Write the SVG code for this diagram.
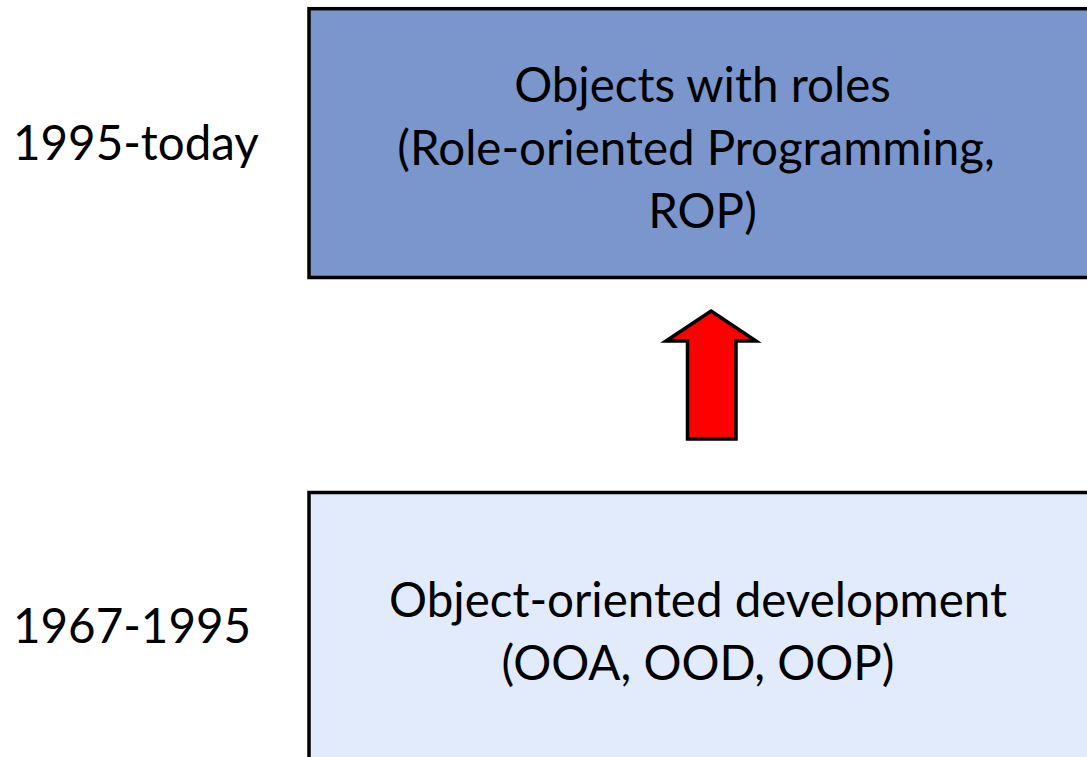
<svg xmlns="http://www.w3.org/2000/svg" width="1087" height="757" viewBox="0 0 1087 757">
<style>
text{font-family:Lato,"Noto Sans",sans-serif;font-size:47.5px;fill:#000}
.c{text-anchor:middle}
.box{stroke:#000;stroke-width:3.5}
</style>
<rect width="1087" height="757" fill="#fff"/>
<g id="label-top"><text x="13" y="160">1995-today</text></g>
<g id="label-bottom"><text x="13" y="643">1967-1995</text></g>
<g id="node-rop">
<rect class="box" x="309" y="8.7" width="800" height="268.8" fill="#7A96CC"/>
<text class="c" x="702.5" y="102">Objects with roles</text>
<text class="c" x="696" y="165">(Role-oriented Programming,</text>
<text class="c" x="702.5" y="228">ROP)</text>
</g>
<g id="node-oo">
<rect class="box" x="309" y="492.5" width="800" height="300" fill="#E2EBFC"/>
<text class="c" x="698" y="617">Object-oriented development</text>
<text class="c" x="698" y="680">(OOA, OOD, OOP)</text>
</g>
<g id="connectors">
<polygon points="711,311 756,341 736,341 736,439 687.5,439 687.5,341 666,341" fill="#FF0000" stroke="#000" stroke-width="3.5" stroke-linejoin="miter"/>
</g>
</svg>
